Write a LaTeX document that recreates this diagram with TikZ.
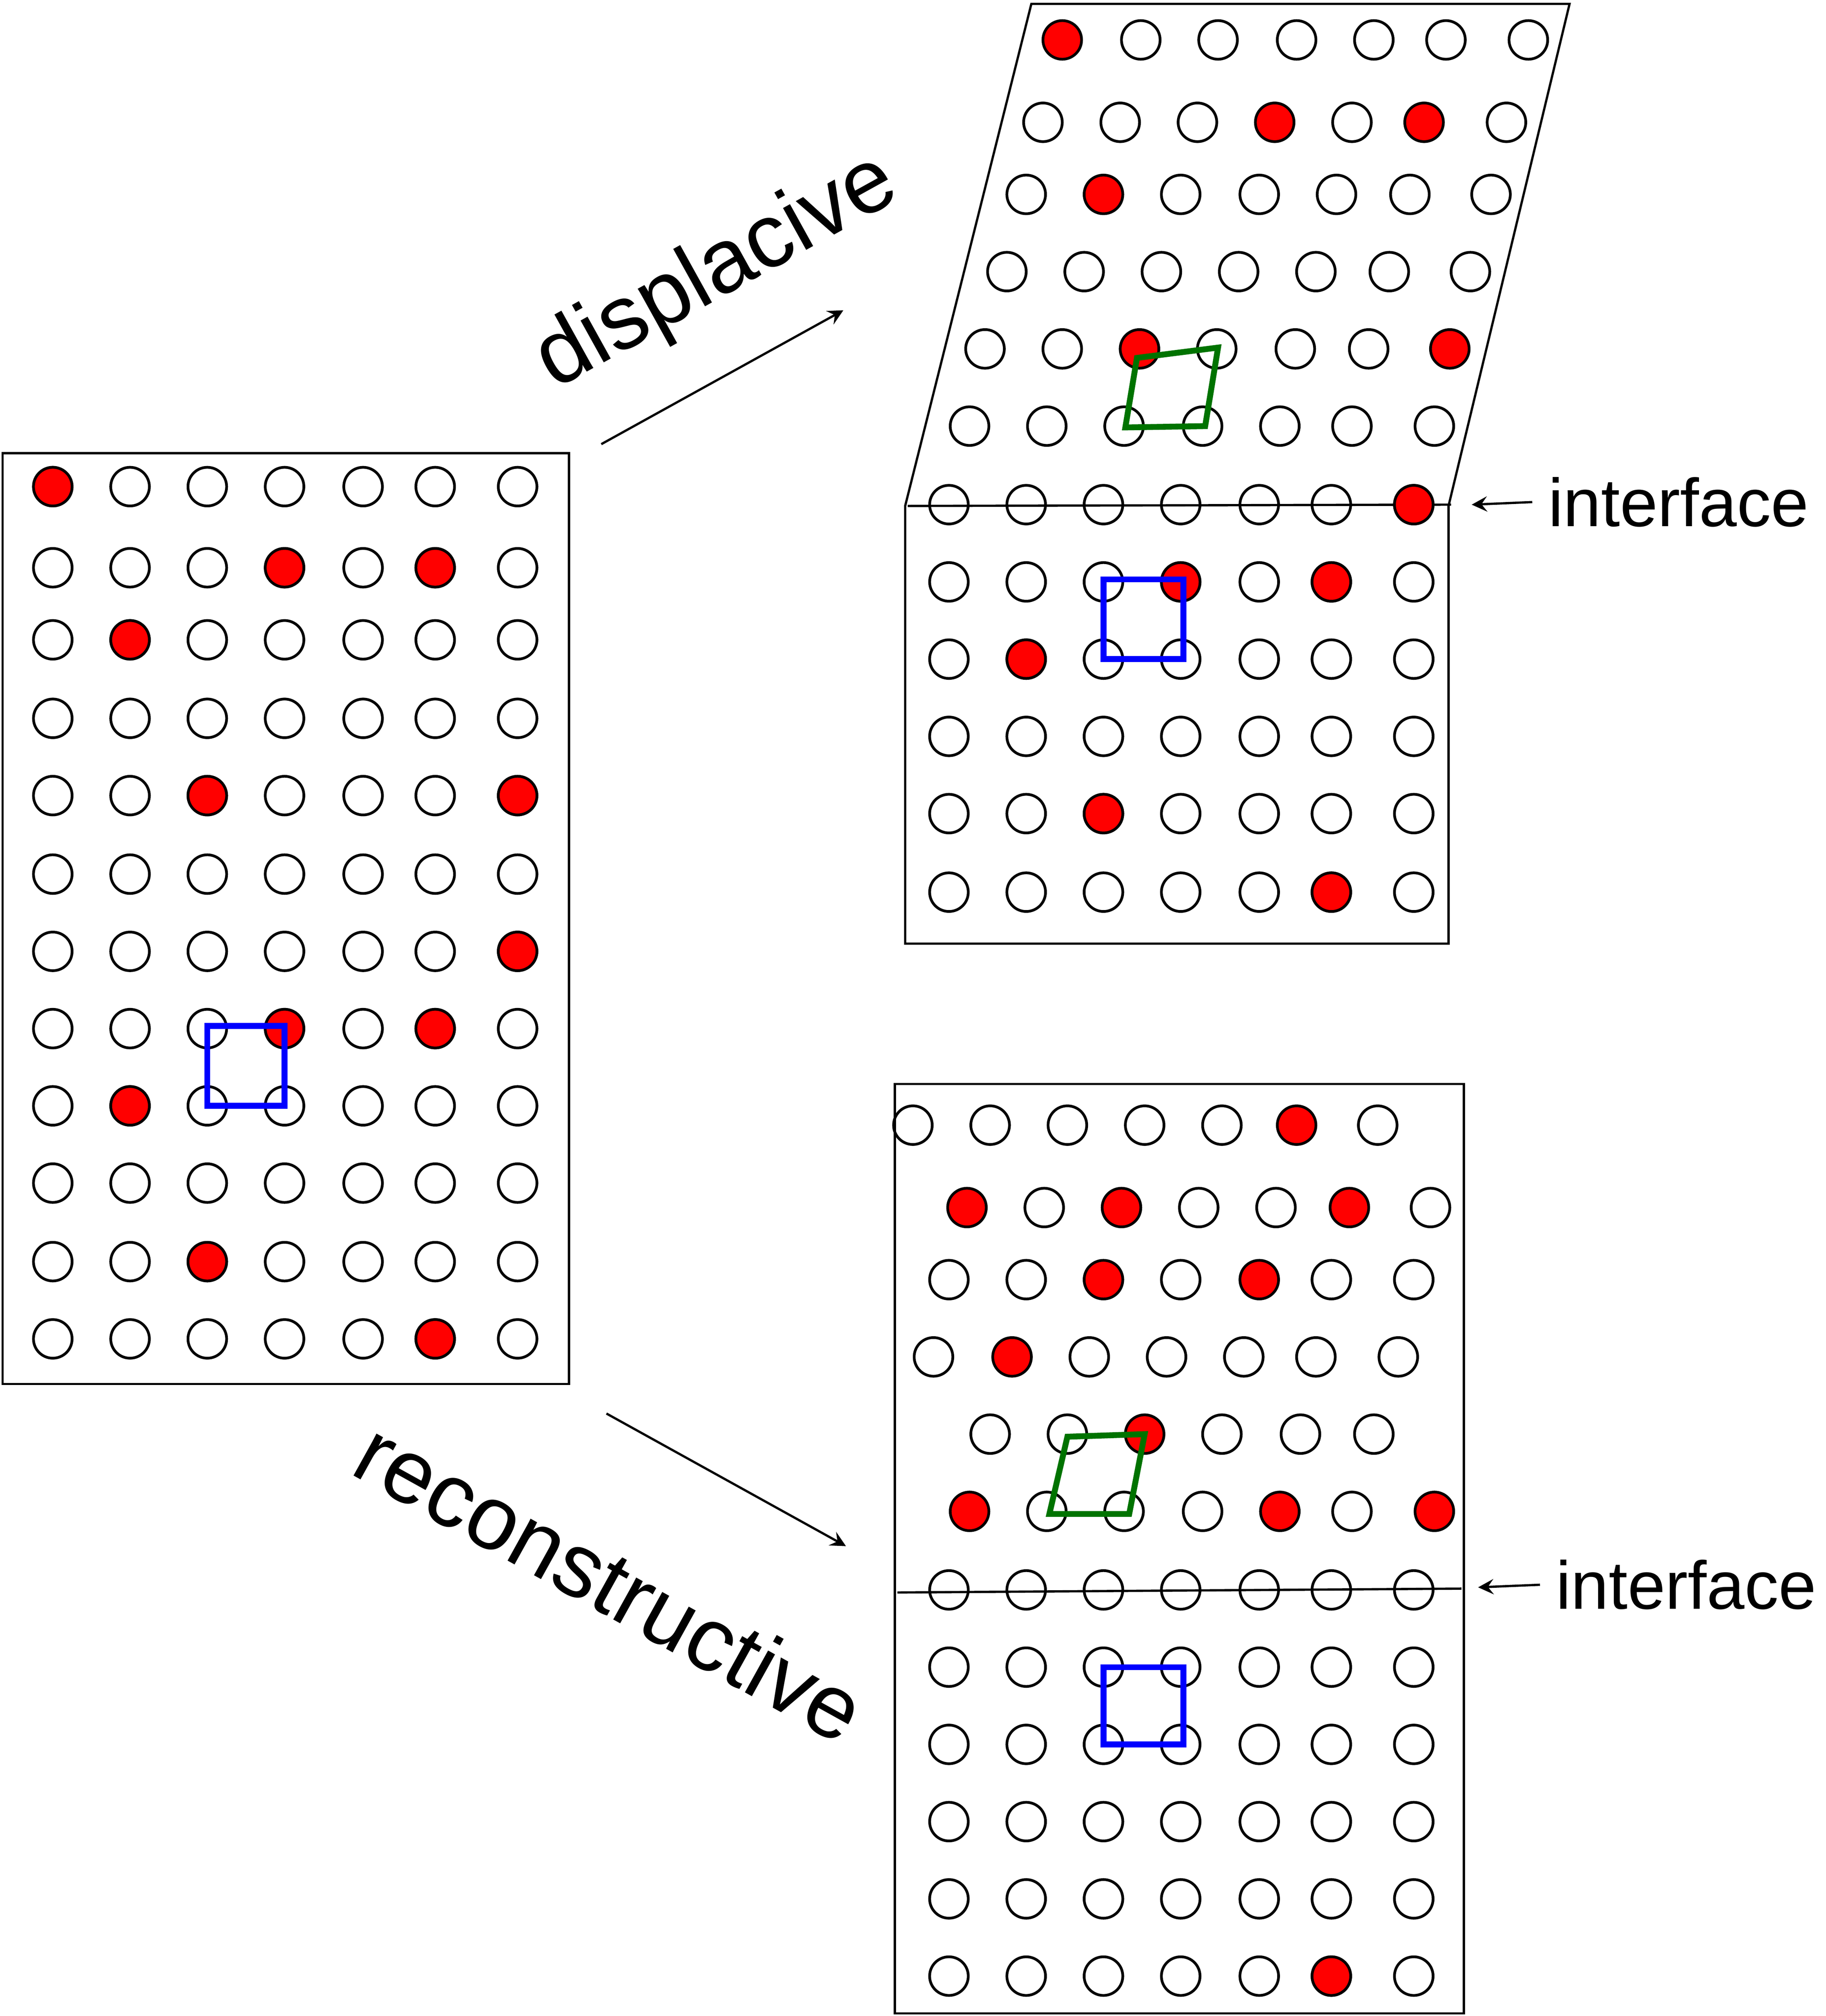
\documentclass[tikz,border=0pt]{standalone}
\usepackage{fontspec}
\setmainfont{Liberation Sans}
\begin{document}
\begin{tikzpicture}[x=0.01cm, y=-0.01cm,
	atom/.style={circle, draw, line width=0.6pt, minimum size=0.3cm, inner sep=0pt},
	hit/.style={atom, fill=red},
	frame/.style={line width=0.5pt},
	cell/.style={line width=1.3pt}]
	\useasboundingbox (0,0) rectangle (1418,1566);

	% parent lattice
	\draw[frame] (2,352) rectangle (442,1075);
	\foreach \y in {378,441,497,558,618,679,739,799,859,919,980,1040}
		\foreach \x in {41,101,161,221,282,338,402}
			\node[atom] at (\x,\y) {};
	\foreach \x/\y in {41/378, 221/441, 338/441, 101/497, 161/618, 402/618, 402/739,
		221/799, 338/799, 101/859, 161/980, 338/1040}
		\node[hit] at (\x,\y) {};
	\draw[cell, blue] (161,797) rectangle (221,859);

	% displacive product
	\draw[frame] (703,393) -- (801,3) -- (1219,3) -- (1125,393) -- (1125,733) -- (703,733) -- cycle;
	\draw[frame] (705,393) -- (1127,392);
	\foreach \x in {886,946,1007,1067,1123,1187} \node[atom] at (\x,31) {};
	\foreach \x in {810,870,930,1050,1170} \node[atom] at (\x,95) {};
	\foreach \x in {797,917,978,1038,1095,1158} \node[atom] at (\x,151) {};
	\foreach \x in {782,842,902,962,1022,1079,1142} \node[atom] at (\x,211) {};
	\foreach \x in {765,825,945,1006,1063} \node[atom] at (\x,271) {};
	\foreach \x in {753,813,873,934,994,1050,1114} \node[atom] at (\x,331) {};
	\foreach \y in {392,452,512,572,632,693}
		\foreach \x in {737,797,857,917,978,1034,1098}
			\node[atom] at (\x,\y) {};
	\foreach \x/\y in {825/31, 990/95, 1106/95, 857/151, 885/271, 1126/271, 1098/392,
		917/452, 1034/452, 797/512, 857/632, 1034/693}
		\node[hit] at (\x,\y) {};
	\draw[cell, blue] (857,450) rectangle (919,512);
	\draw[cell, green!45!black] (883,278) -- (946,270) -- (936,331) -- (874,332) -- cycle;

	% reconstructive product
	\draw[frame] (695,842) rectangle (1137,1564);
	\draw[frame] (697,1237) -- (1135,1234);
	\foreach \x in {709,769,829,889,949,1070} \node[atom] at (\x,874) {};
	\foreach \x in {811,931,991,1111} \node[atom] at (\x,938) {};
	\foreach \x in {737,797,917,1034,1098} \node[atom] at (\x,994) {};
	\foreach \x in {725,846,906,966,1022,1086} \node[atom] at (\x,1054) {};
	\foreach \x in {769,829,949,1010,1067} \node[atom] at (\x,1114) {};
	\foreach \x in {813,873,934,1050} \node[atom] at (\x,1174) {};
	\foreach \y in {1235,1295,1355,1415,1475,1535}
		\foreach \x in {737,797,857,917,978,1034,1098}
			\node[atom] at (\x,\y) {};
	\foreach \x/\y in {1007/874, 751/938, 871/938, 1048/938, 857/994, 978/994,
		786/1054, 889/1114, 753/1174, 994/1174, 1114/1174, 1034/1535}
		\node[hit] at (\x,\y) {};
	\draw[cell, blue] (857,1295) rectangle (919,1355);
	\draw[cell, green!45!black] (829,1116) -- (889,1114) -- (877,1176) -- (815,1176) -- cycle;

	% arrows and labels
	\coordinate (d0) at (467,345);
	\coordinate (d1) at (655,241);
	\coordinate (r0) at (471,1098);
	\coordinate (r1) at (657,1201);
	\draw[-stealth, line width=0.5pt] (d0) -- (d1);
	\draw[-stealth, line width=0.5pt] (r0) -- (r1);
	\node[rotate=29, font=\fontsize{20}{24}\selectfont] (disp) at (557,212) {displacive};
	\node[rotate=-29, font=\fontsize{20}{24}\selectfont] (recon) at (474,1228) {reconstructive};

	\node[anchor=west, font=\fontsize{15}{18}\selectfont] (if1) at (1190,390) {interface};
	\node[anchor=west, font=\fontsize{15}{18}\selectfont] (if2) at (1196,1231) {interface};
	\draw[-stealth, line width=0.5pt] (if1.west) -- (1143,392);
	\draw[-stealth, line width=0.5pt] (if2.west) -- (1148,1233);
\end{tikzpicture}
\end{document}
